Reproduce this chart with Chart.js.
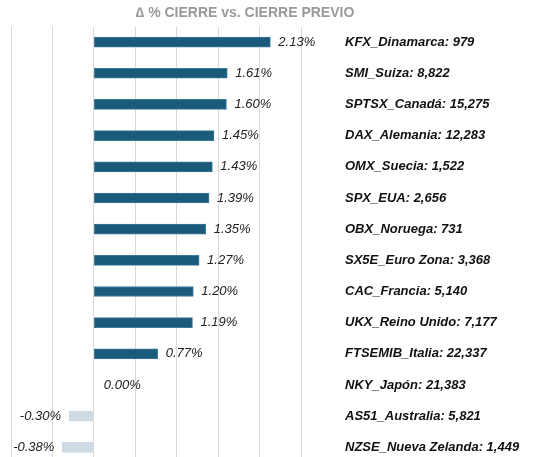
<!DOCTYPE html>
<html>
<head>
<meta charset="utf-8">
<script src="https://cdn.jsdelivr.net/npm/chart.js@4"></script>
<style>
  html, body { margin: 0; padding: 0; background: #fff; overflow: hidden; }
  canvas { display: block; }
</style>
</head>
<body>
<canvas id="chart" width="534" height="463"></canvas>
<script>
// Indices y variación % vs. cierre previo
const indices = ['KFX_Dinamarca: 979', 'SMI_Suiza: 8,822', 'SPTSX_Canadá: 15,275', 'DAX_Alemania: 12,283',
  'OMX_Suecia: 1,522', 'SPX_EUA: 2,656', 'OBX_Noruega: 731', 'SX5E_Euro Zona: 3,368',
  'CAC_Francia: 5,140', 'UKX_Reino Unido: 7,177', 'FTSEMIB_Italia: 22,337', 'NKY_Japón: 21,383',
  'AS51_Australia: 5,821', 'NZSE_Nueva Zelanda: 1,449'];
const cambios = [2.13, 1.61, 1.60, 1.45, 1.43, 1.39, 1.35, 1.27, 1.20, 1.19, 0.77, 0.00, -0.30, -0.38];
const titulo = '\u2206 % CIERRE vs. CIERRE PREVIO';

const FONT = '"Liberation Sans", Arial, Helvetica, sans-serif';

// draws value labels, index labels and title
const labelsPlugin = {
  id: 'labels',
  afterDatasetsDraw(chart) {
    const ctx = chart.ctx;
    const meta = chart.getDatasetMeta(0);
    const zeroX = chart.scales.x.getPixelForValue(0);
    ctx.save();
    ctx.textBaseline = 'middle';
    meta.data.forEach((bar, i) => {
      const v = cambios[i];
      const txt = v.toFixed(2) + '%';
      ctx.font = 'italic 13px ' + FONT;
      ctx.fillStyle = '#222';
      if (v < 0) {
        ctx.textAlign = 'right';
        ctx.fillText(txt, bar.x - 8, bar.y);
      } else if (v === 0) {
        ctx.textAlign = 'left';
        ctx.fillText(txt, zeroX + 10, bar.y);
      } else {
        ctx.textAlign = 'left';
        ctx.fillText(txt, bar.x + 8, bar.y);
      }
      ctx.font = 'italic bold 13px ' + FONT;
      ctx.fillStyle = '#111';
      ctx.textAlign = 'left';
      ctx.fillText(indices[i], 345, bar.y);
    });
    ctx.font = 'bold 14px ' + FONT;
    ctx.fillStyle = '#9a9a9a';
    ctx.textAlign = 'center';
    ctx.fillText(titulo, 245, 13);
    ctx.restore();
  }
};

new Chart(document.getElementById('chart'), {
  type: 'bar',
  data: {
    labels: indices,
    datasets: [{
      data: cambios,
      backgroundColor: cambios.map(v => v < 0 ? '#cfdae4' : '#1a5b7b'),
      borderColor: cambios.map(v => v < 0 ? '#cfdae4' : '#3e7a97'),
      borderWidth: 1,
      borderSkipped: false,
      barThickness: 10
    }]
  },
  options: {
    indexAxis: 'y',
    responsive: false,
    devicePixelRatio: 1,
    animation: false,
    layout: { padding: { left: 11, right: 233, top: 26.5, bottom: 0 } },
    plugins: {
      legend: { display: false },
      tooltip: { enabled: false },
      title: { display: false }
    },
    scales: {
      x: {
        min: -1,
        max: 2.5,
        ticks: { display: false, stepSize: 0.5 },
        grid: { color: '#d9d9d9', drawTicks: false },
        border: { display: false }
      },
      y: {
        display: false
      }
    }
  },
  plugins: [labelsPlugin]
});
</script>
</body>
</html>
